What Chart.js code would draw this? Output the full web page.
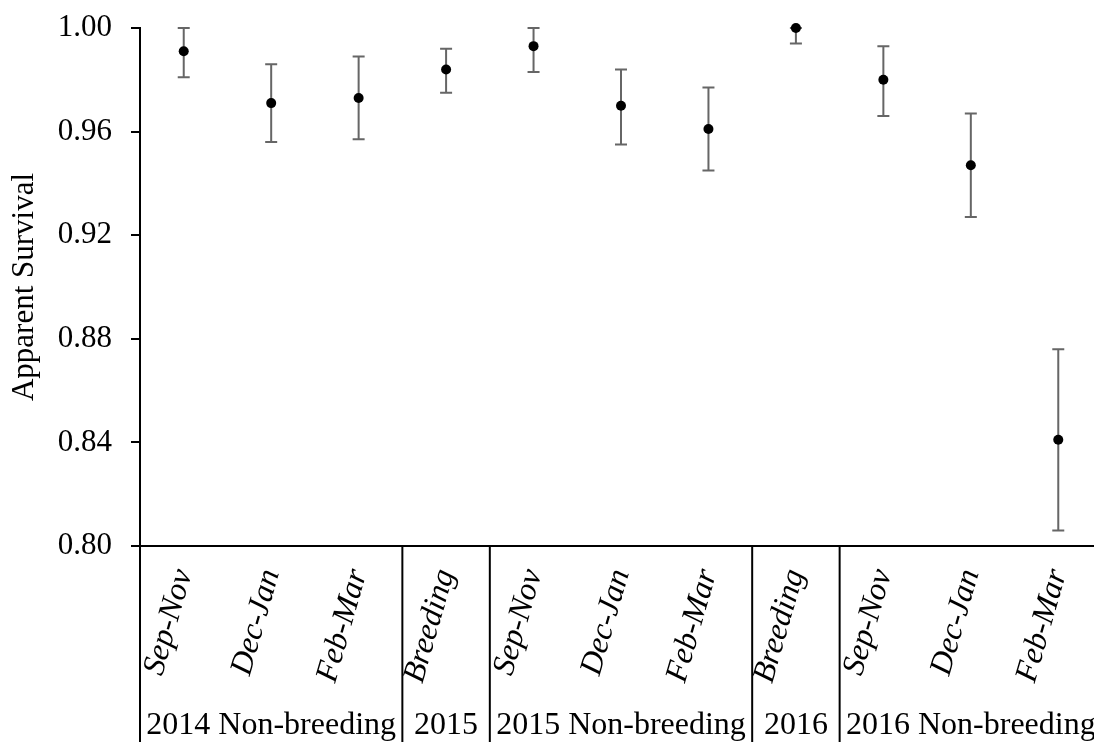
<!DOCTYPE html>
<html>
<head>
<meta charset="utf-8">
<script src="https://cdn.jsdelivr.net/npm/chart.js@4.4.1/dist/chart.umd.min.js"></script>
<style>
  body { margin: 0; background: #fff; overflow: hidden; }
  #frame { width: 1094px; height: 742px; overflow: hidden; }
  /* plot runs a few px past the right edge, as in the original */
  #wrap { width: 1107px; height: 742px; }
</style>
</head>
<body>
<div id="frame"><div id="wrap"><canvas id="survival-chart"></canvas></div></div>
<script>
const periods = ["Sep-Nov", "Dec-Jan", "Feb-Mar", "Breeding", "Sep-Nov", "Dec-Jan", "Feb-Mar", "Breeding", "Sep-Nov", "Dec-Jan", "Feb-Mar"]
const survival = [0.991, 0.971, 0.973, 0.984, 0.993, 0.970, 0.961, 1.000, 0.980, 0.947, 0.841]
const lower = [0.981, 0.956, 0.957, 0.975, 0.983, 0.955, 0.945, 0.994, 0.966, 0.927, 0.806]
const upper = [1.000, 0.986, 0.989, 0.992, 1.000, 0.984, 0.977, 1.000, 0.993, 0.967, 0.876]
const groupNames = ["2014 Non-breeding", "2015", "2015 Non-breeding", "2016", "2016 Non-breeding"]
const groupSizes = [3, 1, 3, 1, 3]

const serif = "'Liberation Serif', 'Times New Roman', serif"
Chart.defaults.font.family = serif
Chart.defaults.color = "#000"

// error bars, drawn under the points
const errorBars = {
    id: "errorBars",
    beforeDatasetsDraw(chart) {
        const { ctx, scales: { x, y } } = chart
        ctx.save()
        ctx.strokeStyle = "#666"
        ctx.lineWidth = 2
        survival.forEach((v, i) => {
            const px = x.getPixelForValue(i)
            const top = y.getPixelForValue(upper[i])
            const bot = y.getPixelForValue(lower[i])
            ctx.beginPath()
            ctx.moveTo(px, top); ctx.lineTo(px, bot)
            ctx.moveTo(px - 6, top); ctx.lineTo(px + 6, top)
            ctx.moveTo(px - 6, bot); ctx.lineTo(px + 6, bot)
            ctx.stroke()
        })
        ctx.restore()
    }
}

// group separators and group names under the axis
const groups = {
    id: "groups",
    afterDraw(chart) {
        const { ctx, scales: { x }, chartArea } = chart
        const h = chart.height
        ctx.save()
        ctx.strokeStyle = "#000"
        ctx.lineWidth = 2
        ctx.fillStyle = "#000"
        ctx.font = "32px " + serif
        ctx.textAlign = "center"
        ctx.textBaseline = "alphabetic"
        let start = 0
        groupSizes.forEach((n, g) => {
            const left = x.getPixelForValue(start - 0.5)
            const right = x.getPixelForValue(start + n - 0.5)
            ctx.beginPath()
            ctx.moveTo(left, chartArea.bottom); ctx.lineTo(left, h)
            ctx.stroke()
            ctx.fillText(groupNames[g], (left + right) / 2, h - 8)
            start += n
        })
        ctx.restore()
    }
}

new Chart(document.getElementById("survival-chart"), {
    type: "line",
    data: {
        labels: periods,
        datasets: [{
            data: survival,
            showLine: false,
            pointRadius: 5,
            pointBackgroundColor: "#000",
            pointBorderColor: "#000",
            pointBorderWidth: 0,
            clip: false
        }]
    },
    options: {
        responsive: true,
        maintainAspectRatio: false,
        animation: false,
        events: [],
        layout: { padding: { top: 28, right: 0, left: 0, bottom: 0 } },
        plugins: { legend: { display: false }, tooltip: { enabled: false } },
        scales: {
            x: {
                offset: true,
                afterFit(scale) {
                    scale.height = 196
                    scale.paddingLeft = 0
                    scale.paddingRight = 0
                },
                grid: { display: true, offset: true, drawOnChartArea: false, drawTicks: false },
                border: { display: true, color: "#000", width: 2 },
                ticks: {
                    minRotation: 74,
                    maxRotation: 74,
                    autoSkip: false,
                    padding: 19,
                    font: { size: 32, style: "italic" }
                }
            },
            y: {
                min: 0.8,
                max: 1.0,
                afterFit(scale) {
                    scale.width = 140
                    scale.paddingTop = 0
                    scale.paddingBottom = 0
                },
                grid: { display: true, drawOnChartArea: false, drawTicks: true, tickLength: 9, color: "#000", lineWidth: 2 },
                border: { display: true, color: "#000", width: 2 },
                ticks: {
                    stepSize: 0.04,
                    padding: 19,
                    font: { size: 31 },
                    callback: v => v.toFixed(2)
                },
                title: {
                    display: true,
                    text: "Apparent Survival",
                    font: { size: 31 },
                    padding: { top: 6, bottom: 0 }
                }
            }
        }
    },
    plugins: [errorBars, groups]
})
</script>
</body>
</html>
